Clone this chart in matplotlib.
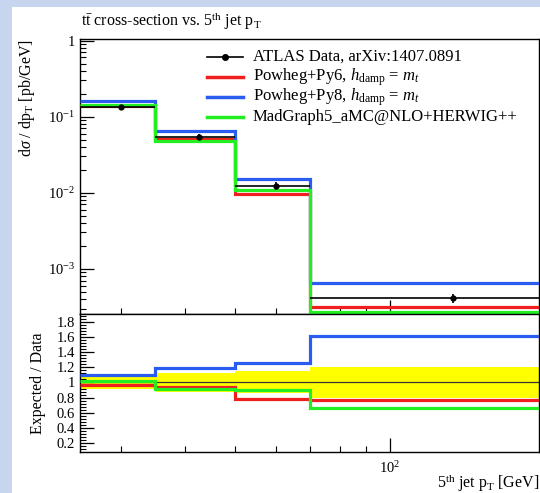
import matplotlib
matplotlib.use("Agg")
import matplotlib.pyplot as plt
import numpy as np
from matplotlib.lines import Line2D
from matplotlib.patches import Rectangle
from matplotlib.ticker import FixedLocator, FixedFormatter, NullFormatter

plt.rcParams['font.family'] = ['Liberation Serif', 'DejaVu Serif']
plt.rcParams['mathtext.fontset'] = 'custom'
plt.rcParams['mathtext.rm'] = 'Liberation Serif'
plt.rcParams['mathtext.it'] = 'Liberation Serif:italic'
plt.rcParams['mathtext.bf'] = 'Liberation Serif:bold'

# ---------------- data ----------------
bin_edges = [25, 35, 50, 70, 195]
data_x = [30, 42.5, 60, 132.5]
data_y = [0.135, 0.054, 0.0122, 4.1e-4]
data_yerr = [0.008, 0.005, 0.0015, 0.6e-4]

py6_y = [0.137, 0.051, 0.0095, 3.16e-4]
py8_y = [0.160, 0.065, 0.0151, 6.5e-4]
mg_y = [0.143, 0.048, 0.0109, 2.7e-4]

ratio_py6 = [0.96, 0.94, 0.78, 0.775]
ratio_py8 = [1.10, 1.19, 1.26, 1.615]
ratio_mg = [1.02, 0.91, 0.90, 0.67]
band_lo = [0.92, 0.88, 0.855, 0.80]
band_hi = [1.08, 1.12, 1.145, 1.20]

labels = ["ATLAS Data, arXiv:1407.0891",
          r"Powheg+Py6, $h_{\rm damp}$ = $m_t$",
          r"Powheg+Py8, $h_{\rm damp}$ = $m_t$",
          "MadGraph5_aMC@NLO+HERWIG++"]

c_red = '#f01e1e'
c_blue = '#2a5cf0'
c_green = '#22ee22'
c_band = '#ffff00'

W, H = 540, 493
fig = plt.figure(figsize=(W / 100, H / 100), dpi=100)
fig.patch.set_facecolor('#c7d5ee')
fig.patches.append(Rectangle((12 / W, 0), 1 - 12 / W, 1 - 7 / H, transform=fig.transFigure,
                             facecolor='white', edgecolor='none', zorder=-10))

def fx(px):
    return px / W

def fy(py):
    return 1 - py / H

L, R = 80, 539
T1, B1, B2 = 39, 314, 452
ax = fig.add_axes([fx(L), fy(B1), fx(R) - fx(L), fy(T1) - fy(B1)])
axr = fig.add_axes([fx(L), fy(B2), fx(R) - fx(L), fy(B1) - fy(B2)], sharex=ax)

def step(a, vals, color, lw, z):
    a.stairs(vals, bin_edges, color=color, lw=lw, zorder=z, baseline=None)

step(ax, py6_y, c_red, 2.3, 3)
step(ax, py8_y, c_blue, 2.3, 3)
step(ax, mg_y, c_green, 2.3, 4)
xerr_lo = [x - e for x, e in zip(data_x, bin_edges[:-1])]
xerr_hi = [e - x for x, e in zip(data_x, bin_edges[1:])]
ax.errorbar(data_x, data_y, yerr=data_yerr, xerr=[xerr_lo, xerr_hi], fmt='o', color='black',
            ms=3.5, lw=1.2, capsize=0, zorder=5)

ax.set_xscale('log')
ax.set_yscale('log')
ax.set_xlim(25, 195)
ax.set_ylim(2.54e-4, 1.05)

# ratio
for i in range(4):
    axr.fill_between([bin_edges[i], bin_edges[i + 1]], band_lo[i], band_hi[i], color=c_band,
                     lw=0, zorder=1)
axr.axhline(1.0, color='#333333', lw=0.9, zorder=2)
step(axr, ratio_py6, c_red, 2.3, 3)
step(axr, ratio_py8, c_blue, 2.3, 3)
step(axr, ratio_mg, c_green, 2.3, 4)
axr.set_ylim(0.085, 1.9)

# ticks
for a in (ax, axr):
    a.tick_params(which='both', direction='in', top=False, right=False, labelsize=10.5)
    a.tick_params(which='major', length=10, width=0.9)
    a.tick_params(which='minor', length=4, width=0.8)
    for s in a.spines.values():
        s.set_linewidth(1.0)

ax.yaxis.set_major_locator(FixedLocator([1e-3, 1e-2, 1e-1, 1]))
ax.yaxis.set_major_formatter(FixedFormatter([r'$10^{-3}$', r'$10^{-2}$', r'$10^{-1}$', '1']))
ax.tick_params(axis='x', which='both', labelbottom=False)

ax.xaxis.set_major_locator(FixedLocator([100]))
ax.xaxis.set_minor_locator(FixedLocator([30, 40, 50, 60, 70, 80, 90]))
axr.xaxis.set_major_formatter(FixedFormatter([r'$10^{2}$']))
axr.xaxis.set_minor_formatter(NullFormatter())
axr.tick_params(axis='x', pad=6)

rt = [0.2, 0.4, 0.6, 0.8, 1.0, 1.2, 1.4, 1.6, 1.8]
axr.yaxis.set_major_locator(FixedLocator(rt))
axr.yaxis.set_major_formatter(FixedFormatter(['0.2', '0.4', '0.6', '0.8', '1', '1.2', '1.4', '1.6', '1.8']))
axr.yaxis.set_minor_locator(FixedLocator(np.arange(0.12, 1.9, 0.04)))

ax.set_ylabel(r'd$\sigma$ / d$\mathrm{p}_{\rm T}$ [pb/GeV]', fontsize=11.5, loc='top', labelpad=8)
axr.set_ylabel('Expected / Data', fontsize=11.5, labelpad=8)

fig.text(fx(539), fy(483), r'5$^{\rm th}$ jet $\mathrm{p}_{\rm T}$ [GeV]', fontsize=11.5,
         ha='right', va='center')

fig.text(fx(81), fy(21), r'$\mathrm{t}\bar{\mathrm{t}}$ cross-section vs. 5$^{\rm th}$ jet $\mathrm{p}_{\rm T}$',
         fontsize=11.5, ha='left', va='center')

# legend (manual)
rows = [57, 77, 97, 117.5]
cols = [c_red, c_blue, c_green]
for i, (yy, lab) in enumerate(zip(rows, labels)):
    if i == 0:
        fig.add_artist(Line2D([fx(207), fx(243)], [fy(yy), fy(yy)], color='black', lw=1.2,
                              transform=fig.transFigure))
        fig.add_artist(Line2D([fx(225)], [fy(yy)], color='black', marker='o', ms=4,
                              transform=fig.transFigure))
    else:
        fig.add_artist(Line2D([fx(207), fx(243)], [fy(yy), fy(yy)], color=cols[i - 1], lw=2.5,
                              transform=fig.transFigure))
    fig.text(fx(253), fy(yy), lab, fontsize=12, ha='left', va='center')

fig.savefig('out.png', dpi=100)
